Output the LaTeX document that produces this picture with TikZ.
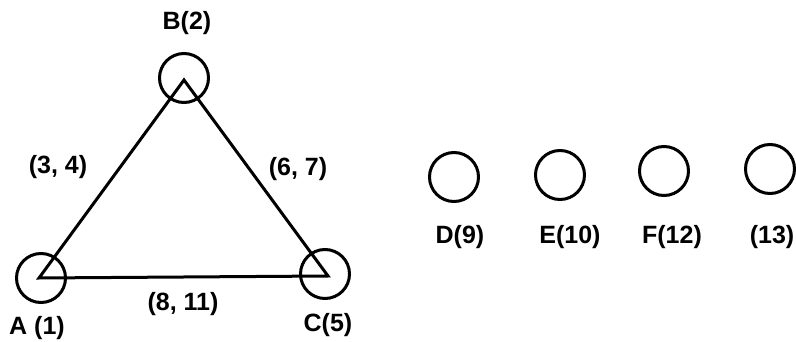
\documentclass[tikz,border=0pt]{standalone}
\usepackage{fontspec}
\setmainfont{Liberation Sans}
\begin{document}
\begin{tikzpicture}[x=1pt,y=-1pt,
  vtx/.style={circle,draw,line width=3pt,minimum size=49pt,inner sep=0pt},
  lbl/.style={font=\bfseries\fontsize{25}{27}\selectfont,inner sep=0pt},
  edge/.style={line width=3pt}]
\useasboundingbox (0,0) rectangle (796,342);
% triangle corners
\coordinate (pa) at (39,278);
\coordinate (pb) at (184,80);
\coordinate (pc) at (328,276);
\node[vtx] (A) at (41,278) {};
\node[vtx] (B) at (184,78) {};
\node[vtx] (C) at (325,274) {};
\draw[edge,line join=miter] (pa) -- (pb) -- (pc) -- cycle;
\node[lbl] (lB) at (187,23) {B(2)};
\node[lbl] (lA) at (37,328) {A (1)};
\node[lbl] (lC) at (328,325) {C(5)};
\node[lbl] (eAB) at (58,167) {(3, 4)};
\node[lbl] (eBC) at (298,169) {(6, 7)};
\node[lbl] (eAC) at (183,304) {(8, 11)};
% isolated vertices
\node[vtx] (D) at (454,177) {};
\node[vtx] (E) at (560,175) {};
\node[vtx] (F) at (664,171) {};
\node[vtx] (G) at (770,169) {};
\node[lbl] (lD) at (460,237) {D(9)};
\node[lbl] (lE) at (570,237) {E(10)};
\node[lbl] (lF) at (672,237) {F(12)};
\node[lbl] (lG) at (772,237) {(13)};
\end{tikzpicture}
\end{document}
